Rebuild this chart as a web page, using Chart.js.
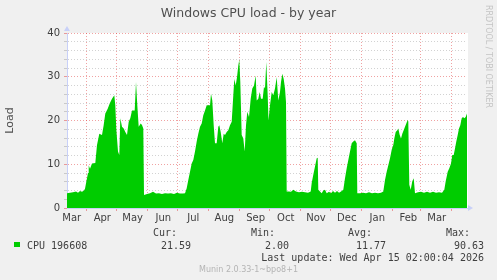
<!DOCTYPE html>
<html>
<head>
  <title>Windows CPU load - by year</title>
  <script src="https://cdn.jsdelivr.net/npm/chart.js"></script>
  <style>
    body {
      margin: 0;
      background: #f0f0f0;
    }
    #wrap {
      position: relative;
      width: 497px;
      height: 280px;
      overflow: hidden;
    }
    canvas {
      position: absolute;
      left: 0;
      top: 0;
    }
    .txt {
      position: absolute;
      white-space: pre;
      line-height: 1;
      color: #404040;
    }
    .mono {
      font-family: "DejaVu Sans Mono", monospace;
      font-size: 10px;
    }
    .r {
      text-align: right;
    }
  </style>
</head>
<body>
  <div id="wrap">
    <canvas id="cpuChart" width="497" height="280"></canvas>
    <div class="txt" style="left:0;width:497px;top:7px;text-align:center;font-family:'DejaVu Sans';font-size:12.5px;color:#505050">Windows CPU load - by year</div>
    <div class="txt" style="left:484px;top:5px;writing-mode:vertical-rl;font-family:'DejaVu Sans';font-size:8px;color:#c4c4c4">RRDTOOL / TOBI OETIKER</div>

    <div style="position:absolute;left:14px;top:242px;width:6px;height:5px;background:#00cc00"></div>
    <div class="txt mono" style="left:27px;top:240.5px">CPU 196608</div>

    <div class="txt mono r" style="right:320px;top:228px">Cur:</div>
    <div class="txt mono r" style="right:306px;top:240.5px" id="cur"></div>
    <div class="txt mono r" style="right:222px;top:228px">Min:</div>
    <div class="txt mono r" style="right:208px;top:240.5px" id="min"></div>
    <div class="txt mono r" style="right:125px;top:228px">Avg:</div>
    <div class="txt mono r" style="right:111px;top:240.5px" id="avg"></div>
    <div class="txt mono r" style="right:27px;top:228px">Max:</div>
    <div class="txt mono r" style="right:13px;top:240.5px" id="max"></div>

    <div class="txt mono r" style="right:13px;top:252.5px">Last update: Wed Apr 15 02:00:04 2026</div>
    <div class="txt" style="left:0;width:497px;top:265.5px;text-align:center;font-family:'DejaVu Sans';font-size:8px;color:#b4b4b4">Munin 2.0.33-1~bpo8+1</div>
  </div>

  <script>
    // x = days since the left edge of the graph (Mar 12 2025), one pixel per day
    const days = [
      0, 3, 6, 9, 11, 13, 15, 17, 18, 19.3, 21, 21.7, 23, 25, 28.3, 30, 32.3, 35, 36.7, 38.3,
      40.7, 42.7, 45, 47.3, 48.3, 49.3, 51, 52.3, 53.3, 55, 56.7, 58.3, 60, 61.7, 63.3, 65, 67.7, 69, 70.3, 71.7,
      73.7, 75, 76.3, 77, 80, 83, 86, 89, 92, 95, 98, 101, 104, 107, 110, 113, 116, 118, 119.7, 121.3,
      123, 124.7, 126.3, 128, 129.7, 131.3, 133, 134.7, 136.3, 138, 139.7, 141.3, 143, 144, 145.3, 146.7, 148, 149.7, 151.3, 152.3,
      153.7, 155.3, 156.7, 158, 159.7, 161.3, 163, 164.7, 166.3, 167.3, 168.7, 170, 171.3, 172.3, 173.3, 174.7, 176.3, 177.7, 179, 180.3,
      182, 183.7, 185.3, 187, 188.7, 189.7, 191.3, 192.7, 194, 195.7, 197, 198, 199.3, 200.7, 201.5, 203, 204.7, 206.3, 208, 209.7,
      211.3, 213, 214, 215.3, 216.7, 218, 219, 219.7, 222, 224, 226.3, 229, 232, 235, 238, 241, 243.7, 244.7, 246.3, 248,
      249.7, 250.7, 251.3, 253, 254.7, 256.3, 258, 259.7, 262, 264, 266, 268, 270, 272, 274, 276.3, 278, 279.7, 281.3, 283,
      284.7, 286.3, 288, 289.7, 290.3, 293, 296, 299, 302, 305, 308, 311, 314, 316.3, 318, 319.7, 321.3, 323, 324.7, 326.3,
      327.3, 328.7, 330.3, 331.3, 332.7, 334, 335.3, 336.7, 338, 339.3, 340.7, 341.3, 342.3, 343.7, 345.3, 346.7, 348, 351, 354, 357,
      360, 363, 366, 369, 372, 375, 377.3, 378.7, 380.7, 382.3, 384, 385.3, 386.7, 388, 389.3, 390.7, 392, 393.3, 394.7, 396,
      397.3, 398.7, 400
    ];
    const cpuLoad = [
      3.4, 3.5, 3.6, 3.8, 3.5, 3.9, 3.7, 4.0, 4.4, 6.0, 8.0, 9.8, 9.0, 10.2, 10.3, 14.4, 17.0, 16.7, 19.0, 21.6,
      22.7, 23.9, 25.0, 25.8, 23.5, 18.0, 12.9, 12.1, 20.5, 18.6, 18.2, 17.4, 16.7, 19.7, 20.5, 22.3, 22.3, 28.8, 23.5, 18.6,
      19.3, 19.0, 18.2, 3.0, 3.2, 3.4, 3.7, 3.3, 3.4, 3.2, 3.4, 3.3, 3.4, 3.2, 3.5, 3.3, 3.3, 3.4, 4.5, 6.4,
      8.3, 10.2, 11.0, 12.9, 15.2, 17.0, 18.6, 19.3, 21.2, 22.3, 23.5, 23.5, 23.5, 26.1, 24.6, 18.9, 14.8, 14.8, 18.6, 18.9,
      17.4, 14.8, 17.0, 16.7, 17.4, 17.8, 18.9, 19.7, 25.8, 29.5, 28.0, 29.9, 32.6, 33.9, 28.8, 16.7, 15.9, 12.9, 18.9, 22.0,
      20.8, 25.0, 27.3, 28.0, 30.3, 24.6, 25.0, 26.5, 25.0, 25.0, 27.7, 27.3, 33.4, 25.8, 20.0, 23.5, 26.5, 25.8, 27.3, 29.9,
      24.6, 26.5, 28.8, 30.7, 29.5, 27.3, 24.2, 3.8, 3.8, 3.7, 4.2, 3.8, 3.6, 3.7, 3.6, 3.5, 3.8, 5.7, 7.6, 9.5,
      11.4, 11.5, 4.2, 3.8, 3.4, 4.0, 4.2, 3.4, 3.7, 3.4, 3.9, 3.5, 3.9, 3.5, 3.8, 4.2, 6.8, 9.1, 11.0, 12.9,
      14.8, 15.2, 15.5, 14.8, 3.4, 3.4, 3.5, 3.4, 3.6, 3.4, 3.5, 3.4, 3.5, 3.8, 6.4, 8.3, 9.8, 11.4, 13.3, 14.4,
      15.9, 17.4, 17.8, 18.2, 16.7, 15.9, 17.0, 17.8, 18.6, 19.3, 20.1, 19.8, 5.3, 4.2, 6.1, 6.8, 3.4, 3.6, 3.7, 3.5,
      3.7, 3.5, 3.7, 3.5, 3.6, 3.5, 4.2, 6.1, 8.3, 9.1, 10.2, 12.1, 12.1, 13.6, 15.2, 16.7, 18.2, 18.9, 20.5, 20.8,
      20.5, 20.8, 21.6
    ];

    // month boundaries (grid lines) and month label centres, in the same day units
    const monthStarts = [19.7, 49.7, 80.7, 110.7, 141.7, 172.7, 202.7, 233.7, 263.7, 294.7, 325.7, 353.7, 384.7];
    const monthLabelDays = [4.7, 35.3, 65.7, 96.3, 126.3, 157.3, 188.7, 218.7, 249, 279.7, 310.3, 341.3, 369.7];
    const monthLabels = ["Mar", "Apr", "May", "Jun", "Jul", "Aug", "Sep", "Oct", "Nov", "Dec", "Jan", "Feb", "Mar"];

    // legend statistics as printed by munin
    const statNames = ["cur", "min", "avg", "max"];
    const statValues = ["21.59", "2.00", "11.77", "90.63"];
    statNames.forEach((n, i) => document.getElementById(n).textContent = statValues[i]);

    const majorGrid = "rgba(222, 48, 48, 0.45)";
    const minorGrid = "rgba(143, 143, 143, 0.4)";
    const axisBlue = "#c8d0f8";

    const canvasBg = {
      id: "canvasBg",
      beforeDraw(chart) {
        const { ctx, chartArea: a } = chart;
        ctx.save();
        ctx.fillStyle = "#ffffff";
        ctx.fillRect(a.left, a.top, a.right - a.left + 1, a.bottom - a.top);
        ctx.restore();
      },
      afterDraw(chart) {
        const { ctx, chartArea: a } = chart;
        ctx.save();
        ctx.fillStyle = axisBlue;
        ctx.beginPath();
        ctx.moveTo(a.left - 3, a.top - 2);
        ctx.lineTo(a.left + 3, a.top - 2);
        ctx.lineTo(a.left, a.top - 7);
        ctx.fill();
        ctx.beginPath();
        ctx.moveTo(a.right + 1, a.bottom - 3);
        ctx.lineTo(a.right + 1, a.bottom + 3);
        ctx.lineTo(a.right + 6, a.bottom);
        ctx.fill();
        ctx.restore();
      }
    };

    new Chart(document.getElementById("cpuChart"), {
      type: "line",
      data: {
        datasets: [{
          label: "CPU 196608",
          data: days.map((d, i) => ({ x: d, y: cpuLoad[i] })),
          backgroundColor: "#00cc00",
          borderColor: "rgba(0,0,0,0)",
          borderWidth: 1,
          fill: "origin",
          pointRadius: 0,
          tension: 0
        }]
      },
      options: {
        responsive: false,
        animation: false,
        devicePixelRatio: 1,
        layout: { padding: { left: 0, right: 30, top: 33, bottom: 0 } },
        plugins: {
          legend: { display: false },
          title: { display: false },
          tooltip: { enabled: false }
        },
        scales: {
          x: {
            type: "linear",
            min: 0,
            max: 400,
            afterBuildTicks: s => {
              s.ticks = monthStarts.concat(monthLabelDays).sort((a, b) => a - b).map(v => ({ value: v }));
            },
            afterFit: s => { s.height = 72; },
            ticks: {
              autoSkip: false,
              maxRotation: 0,
              minRotation: 0,
              padding: 1,
              color: "#404040",
              font: { family: "DejaVu Sans", size: 10 },
              callback: v => {
                const i = monthLabelDays.indexOf(v);
                return i >= 0 ? monthLabels[i] : "";
              }
            },
            grid: {
              color: c => (c.tick && monthStarts.includes(c.tick.value)) ? majorGrid : "rgba(0,0,0,0)",
              tickLength: 3
            },
            border: { color: axisBlue, dash: [1, 2] }
          },
          y: {
            min: 0,
            max: 40,
            afterFit: s => { s.width = 67; },
            ticks: {
              stepSize: 2,
              autoSkip: false,
              padding: 4,
              color: "#404040",
              font: { family: "DejaVu Sans", size: 10 },
              callback: v => v % 10 === 0 ? v : ""
            },
            grid: {
              color: c => (c.tick && c.tick.value % 10 === 0) ? majorGrid : minorGrid,
              tickLength: 3
            },
            border: { color: axisBlue, dash: [1, 2] },
            title: {
              display: true,
              text: "Load",
              color: "#505050",
              font: { family: "DejaVu Sans", size: 11 },
              padding: { top: 4, bottom: 0 }
            }
          }
        }
      },
      plugins: [canvasBg]
    });
  </script>
</body>
</html>
